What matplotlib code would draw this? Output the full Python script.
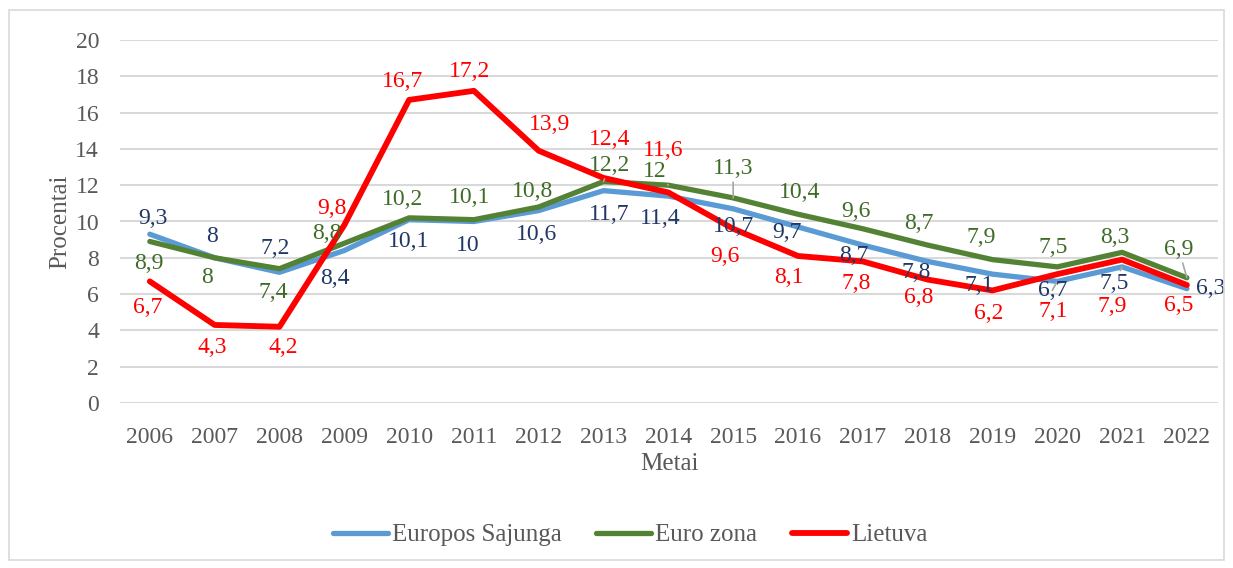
import matplotlib
matplotlib.use("Agg")
import matplotlib.pyplot as plt
from matplotlib.patches import Rectangle
import numpy as np

plt.rcParams['font.family'] = ['Liberation Serif', 'DejaVu Serif']

years = [str(y) for y in range(2006, 2023)]
es = [9.3, 8, 7.2, 8.4, 10.1, 10, 10.6, 11.7, 11.4, 10.7, 9.7, 8.7, 7.8, 7.1, 6.7, 7.5, 6.3]
euro = [8.9, 8, 7.4, 8.8, 10.2, 10.1, 10.8, 12.2, 12, 11.3, 10.4, 9.6, 8.7, 7.9, 7.5, 8.3, 6.9]
lt = [6.7, 4.3, 4.2, 9.8, 16.7, 17.2, 13.9, 12.4, 11.6, 9.6, 8.1, 7.8, 6.8, 6.2, 7.1, 7.9, 6.5]

# label offsets in pixels (dx right, dy down as in the picture)
es_off = [(3, -16), (-3, -21), (-4, -24), (-9, 28), (0, 22), (-6, 24), (-2, 24), (6, 24),
          (-8, 22), (0, 18), (-11, 6), (-9, 10), (-11, 11), (-13, 11), (-5, 9), (-8, 17), (24, 0)]
euro_off = [(-1, 22), (-8, 20), (-6, 24), (-17, -10), (-7, -18), (-4, -22), (-6, -15), (6, -16),
            (-14, -14), (0, -29), (2, -22), (-7, -17), (-9, -22), (-11, -22), (-4, -19), (-7, -15), (-8, -28)]
lt_off = [(-2, 26), (-2, 23), (4, 21), (-12, -17), (-7, -18), (-4, -19), (11, -26), (6, -38),
          (-5, -42), (-8, 28), (-9, 22), (-7, 22), (-9, 18), (-4, 23), (-4, 37), (-10, 47), (-8, 20)]
es_lead = [14, 15]
euro_lead = [7, 8, 9, 16]

W, H = 1233, 568
fig = plt.figure(figsize=(W / 100, H / 100), dpi=100)
ax = fig.add_axes([120 / W, 1 - 403 / H, 1098 / W, 363 / H])

x = np.arange(len(years))
ax.plot(x, es, color='#5B9BD5', lw=3.8, solid_capstyle='round', label='Europos Sajunga', zorder=3)
ax.plot(x, euro, color='#548235', lw=3.8, solid_capstyle='round', label='Euro zona', zorder=4)
ax.plot(x, lt, color='#FF0000', lw=4.2, solid_capstyle='round', label='Lietuva', zorder=5)


def labels(vals, offs, color, leads):
    for i, v in enumerate(vals):
        dx, dy = offs[i]
        ap = None
        if i in leads:
            ap = dict(arrowstyle='-', color='#A6A6A6', lw=1.2, shrinkA=0, shrinkB=0)
        ax.annotate(f"{v:g}".replace('.', ','), (x[i], v), xytext=(dx, -dy),
                    textcoords='offset pixels', ha='center', va='center',
                    fontsize=17, color=color, zorder=6, arrowprops=ap)


labels(es, es_off, '#203864', es_lead)
labels(euro, euro_off, '#3E6B26', euro_lead)
labels(lt, lt_off, '#FF0000', [])

ax.set_xlim(-0.46, 16.48)
ax.set_ylim(0, 20)
ax.set_yticks(range(0, 21, 2))
ax.set_xticks(x)
ax.set_xticklabels(years)
ax.tick_params(length=0, labelsize=17, labelcolor='#595959', pad=17)
ax.tick_params(axis='y', pad=15)
ax.grid(axis='y', color='#D9D9D9', lw=1.5)
ax.set_axisbelow(True)
for s in ax.spines.values():
    s.set_visible(False)
ax.set_ylabel('Procentai', fontsize=18, color='#595959', labelpad=3)
ax.set_xlabel('Metai', fontsize=18, color='#595959', labelpad=4)

fig.legend(loc='center', bbox_to_anchor=(630 / W, 1 - 535 / H), ncol=3, frameon=False,
           fontsize=18, labelcolor='#595959', handlelength=2.2, handletextpad=0.15,
           columnspacing=1.4)

fig.patches.append(Rectangle((9 / W, 8 / H), 1215 / W, 550 / H, transform=fig.transFigure,
                             fill=False, edgecolor='#D9D9D9', lw=1.2))

fig.savefig('out.png', dpi=100)
